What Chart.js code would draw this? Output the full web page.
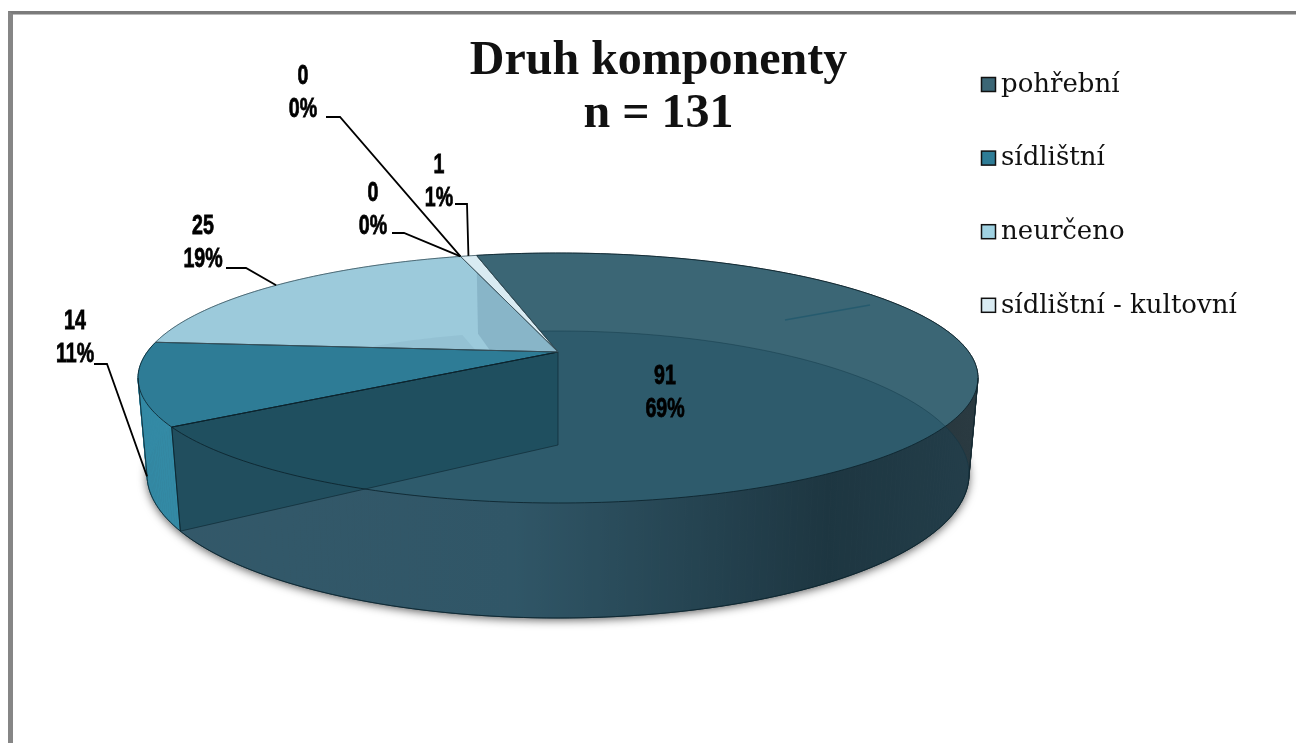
<!DOCTYPE html>
<html>
<head>
<meta charset="utf-8">
<title>Druh komponenty</title>
<script src="https://cdn.jsdelivr.net/npm/chart.js@4"></script>
<style>
    html, body { margin: 0; padding: 0; background: #fff; overflow: hidden; }
    #frame { position: absolute; left: 8px; top: 11px; width: 1288px; height: 732px; box-sizing: border-box;
             border-left: 5px solid #868686; border-top: 3px solid #7b7b7b; box-shadow: inset 0 1px 0 #bbb; }
    canvas { position: absolute; left: 0; top: 0; }
</style>
</head>
<body>
<div id="frame"></div>
<canvas id="chartKomponenty" width="1296" height="743"></canvas>
<script>
const categories = ['pohřební', 'sídlištní', 'neurčeno', '', '', 'sídlištní - kultovní'];
const values = [91, 14, 25, 0, 0, 1];
const titleLines = ['Druh komponenty', 'n = 131'];

const topColors = ['#3b6675', '#2e7c96', '#9ccadb', '#5f8a9a', '#7aa6b6', '#d9ebf2'];
const legendColors = ['#3b6675', '#2e7c96', '#a0d2e2', '#5f8a9a', '#7aa6b6', '#d9ebf2'];
const wallColors = ['#3e5f70', '#338aa5', '#8ab6c6', '#5f8a9a', '#7aa6b6', '#c5dbe3'];

// caja de cada etiqueta y de donde sale su linea
const labelPos = [[665, 376], [75, 321], [203, 226], [373, 193], [303, 76], [439, 165]];
const leaderElbow = [null, [[94, 364], [107, 364]], [[226, 268], [246, 268]], [[392, 233], [404, 233]], [[326, 117], [340, 117]], [[455, 204], [467, 204]]];
const leaderLevel = [0, 0.95, 0, 0, 0, 0];

const planoSup = { cx: 558, cy: 378, rx: 420, ry: 125, off: -26 };
const planoInf = { cx: 558, cy: 474.5, rx: 411, ry: 143.5, off: -29.5 };

const proyectar = (plano, ang, r) => {
    const u = r * Math.cos(ang);
    const v = r * Math.sin(ang);
    const c = plano.off / plano.ry;
    const k = plano.rx * Math.sqrt(1 - c * c);
    const d = 1 + c * v;
    return { x: plano.cx + k * u / d, y: plano.cy + (plano.ry * v + plano.off) / d };
};

const trazarCuna = (ctx, plano, ini, fin) => {
    ctx.beginPath();
    const centro = proyectar(plano, 0, 0);
    ctx.moveTo(centro.x, centro.y);
    const pasos = Math.max(2, Math.ceil((fin - ini) * 60));
    for (let i = 0; i <= pasos; i++) {
        const p = proyectar(plano, ini + (fin - ini) * i / pasos, 1);
        ctx.lineTo(p.x, p.y);
    }
    ctx.closePath();
};

// la pared va por tramos porque las dos elipses se cruzan cerca de los extremos
const pintarPared = (ctx, ini, fin, estilo) => {
    const pasos = Math.max(2, Math.ceil((fin - ini) * 60));
    ctx.fillStyle = estilo;
    ctx.strokeStyle = estilo;
    ctx.lineWidth = 0.7;
    for (let i = 0; i < pasos; i++) {
        const a1 = ini + (fin - ini) * i / pasos;
        const a2 = ini + (fin - ini) * (i + 1) / pasos;
        const p1 = proyectar(planoSup, a1, 1);
        const p2 = proyectar(planoSup, a2, 1);
        const p3 = proyectar(planoInf, a2, 1);
        const p4 = proyectar(planoInf, a1, 1);
        ctx.beginPath();
        ctx.moveTo(p1.x, p1.y);
        ctx.lineTo(p2.x, p2.y);
        ctx.lineTo(p3.x, p3.y);
        ctx.lineTo(p4.x, p4.y);
        ctx.closePath();
        ctx.fill();
        ctx.stroke();
    }
};

const trazarCorte = (ctx, ang) => {
    const a = proyectar(planoSup, ang, 1);
    const b = proyectar(planoSup, 0, 0);
    const c = proyectar(planoInf, 0, 0);
    const d = proyectar(planoInf, ang, 1);
    ctx.beginPath();
    ctx.moveTo(a.x, a.y);
    ctx.lineTo(b.x, b.y);
    ctx.lineTo(c.x, c.y);
    ctx.lineTo(d.x, d.y);
    ctx.closePath();
};

const linea = 'rgba(12,35,45,0.85)';

const pie3d = {
    id: 'pie3d',
    beforeDatasetDraw: () => false,
    afterDatasetsDraw(chart) {
        const ctx = chart.ctx;
        const arcos = chart.getDatasetMeta(0).data;
        const colores = chart.data.datasets[0].backgroundColor;
        const a0 = arcos[0];
        const a2 = arcos[2];
        const vuelta = Math.PI * 2;
        // angulos donde la pared hace de silueta
        const tanDer = Math.asin(planoSup.off / planoSup.ry * -1);
        const tanIzq = Math.PI - tanDer;
        ctx.save();
        ctx.lineJoin = 'round';

        // sombra debajo del cilindro
        ctx.save();
        ctx.shadowColor = 'rgba(0,0,0,0.65)';
        ctx.shadowBlur = 10;
        ctx.shadowOffsetY = 2;
        ctx.fillStyle = '#555';
        trazarCuna(ctx, planoInf, 0, vuelta);
        ctx.fill();
        ctx.restore();

        // pared y tapa de la porcion grande
        const g = ctx.createLinearGradient(178, 0, 970, 0);
        g.addColorStop(0, '#426271');
        g.addColorStop(0.42, '#3e5f6e');
        g.addColorStop(0.82, '#222f35');
        g.addColorStop(1, '#2a3a41');
        pintarPared(ctx, a0.startAngle, a0.endAngle, g);
        trazarCuna(ctx, planoSup, a0.startAngle, a0.endAngle);
        ctx.fillStyle = colores[0];
        ctx.fill();

        // veta del original en la tapa
        ctx.strokeStyle = 'rgba(35,90,110,0.9)';
        ctx.lineWidth = 1.5;
        ctx.beginPath();
        ctx.moveTo(785, 320);
        ctx.lineTo(870, 305);
        ctx.stroke();

        // piso completo visto a traves
        ctx.beginPath();
        for (let i = 0; i <= 360; i++) {
            const p = proyectar(planoInf, vuelta * i / 360, 1);
            i === 0 ? ctx.moveTo(p.x, p.y) : ctx.lineTo(p.x, p.y);
        }
        ctx.closePath();
        ctx.fillStyle = 'rgba(20,70,90,0.33)';
        ctx.fill();
        ctx.strokeStyle = 'rgba(12,50,65,0.4)';
        ctx.lineWidth = 1;
        ctx.stroke();

        // otras paredes, de atras hacia adelante, y tapas
        for (let i = arcos.length - 1; i > 0; i--) {
            if (arcos[i].endAngle - arcos[i].startAngle <= 0) continue;
            pintarPared(ctx, arcos[i].startAngle, arcos[i].endAngle, wallColors[i]);
        }
        arcos.forEach((arco, i) => {
            if (i === 0 || arco.endAngle - arco.startAngle <= 0) return;
            trazarCuna(ctx, planoSup, arco.startAngle, arco.endAngle);
            ctx.fillStyle = colores[i];
            ctx.fill();
        });

        // pared del corte frontal
        trazarCorte(ctx, a0.endAngle);
        ctx.fillStyle = 'rgba(26,75,90,0.72)';
        ctx.fill();
        ctx.strokeStyle = linea;
        ctx.stroke();

        // corte trasero y piso vistos a traves de la porcion clara
        ctx.save();
        trazarCuna(ctx, planoSup, a2.startAngle, a2.endAngle);
        ctx.clip();
        trazarCuna(ctx, planoInf, a2.startAngle, a2.endAngle);
        ctx.fillStyle = 'rgba(40,90,110,0.07)';
        ctx.fill();
        trazarCorte(ctx, a0.startAngle);
        ctx.fillStyle = 'rgba(40,80,105,0.17)';
        ctx.fill();
        ctx.restore();

        // contorno exterior: frente del piso y siluetas
        ctx.strokeStyle = linea;
        ctx.lineWidth = 1;
        ctx.beginPath();
        const desde = proyectar(planoSup, tanDer, 1);
        ctx.moveTo(desde.x, desde.y);
        for (let i = 0; i <= 120; i++) {
            const p = proyectar(planoInf, tanDer + (tanIzq - tanDer) * i / 120, 1);
            ctx.lineTo(p.x, p.y);
        }
        const hasta = proyectar(planoSup, tanIzq, 1);
        ctx.lineTo(hasta.x, hasta.y);
        ctx.stroke();
        const esq1 = proyectar(planoSup, a0.endAngle, 1);
        const esq2 = proyectar(planoInf, a0.endAngle, 1);
        ctx.beginPath();
        ctx.moveTo(esq1.x, esq1.y);
        ctx.lineTo(esq2.x, esq2.y);
        ctx.stroke();

        // bordes de las tapas
        arcos.forEach((arco, i) => {
            if (arco.endAngle - arco.startAngle <= 0) return;
            trazarCuna(ctx, planoSup, arco.startAngle, arco.endAngle);
            ctx.strokeStyle = i === 2 || i === 5 ? 'rgba(60,85,95,0.8)' : linea;
            ctx.lineWidth = 1;
            ctx.stroke();
        });
        ctx.restore();
    },
    afterDraw(chart) {
        const ctx = chart.ctx;
        const arcos = chart.getDatasetMeta(0).data;
        const total = values.reduce((s, v) => s + v, 0);
        ctx.save();

        // leyenda
        ctx.textBaseline = 'middle';
        ctx.textAlign = 'left';
        let fila = 0;
        categories.forEach((cat, i) => {
            if (!cat) return;
            const y = 85 + fila * 73.6;
            ctx.fillStyle = legendColors[i];
            ctx.fillRect(981.5, y - 7.5, 14, 14);
            ctx.strokeStyle = '#111';
            ctx.lineWidth = 1.5;
            ctx.strokeRect(981.5, y - 7.5, 14, 14);
            ctx.fillStyle = '#111';
            ctx.font = '26px "DejaVu Serif"';
            ctx.fillText(cat, 1001, y);
            fila++;
        });

        // lineas guia
        ctx.strokeStyle = '#000';
        ctx.lineWidth = 1.8;
        arcos.forEach((arco, i) => {
            if (!leaderElbow[i]) return;
            const medio = (arco.startAngle + arco.endAngle) / 2;
            const a = proyectar(planoSup, medio, 1);
            const b = proyectar(planoInf, medio, 1);
            const t = leaderLevel[i];
            ctx.beginPath();
            leaderElbow[i].forEach((p, j) => j === 0 ? ctx.moveTo(p[0], p[1]) : ctx.lineTo(p[0], p[1]));
            ctx.lineTo(a.x + (b.x - a.x) * t, a.y + (b.y - a.y) * t);
            ctx.stroke();
        });

        // etiquetas condensadas: valor y porcentaje
        ctx.fillStyle = '#000';
        ctx.strokeStyle = '#000';
        ctx.lineWidth = 0.8;
        ctx.textAlign = 'center';
        ctx.font = 'bold 28px "Liberation Sans"';
        values.forEach((v, i) => {
            const texto = [String(v), Math.round(v / total * 100) + '%'];
            texto.forEach((t, j) => {
                ctx.save();
                ctx.translate(labelPos[i][0], labelPos[i][1] + j * 33);
                ctx.scale(0.7, 1);
                ctx.fillText(t, 0, 0);
                ctx.strokeText(t, 0, 0);
                ctx.restore();
            });
        });
        ctx.restore();
    }
};

const chartKomponenty = new Chart(document.getElementById('chartKomponenty').getContext('2d'), {
    type: 'pie',
    data: {
        labels: categories,
        datasets: [{ data: values, backgroundColor: topColors, borderWidth: 0 }]
    },
    options: {
        responsive: false,
        animation: false,
        rotation: -13.8,
        layout: { padding: { left: 21 } },
        plugins: {
            legend: { display: false },
            tooltip: { enabled: false },
            title: {
                display: true,
                text: titleLines,
                color: '#111',
                padding: { top: 35, bottom: 0 },
                font: { family: '"Liberation Serif"', size: 48, weight: 'bold', lineHeight: 1.11 }
            }
        }
    },
    plugins: [pie3d]
});
</script>
</body>
</html>
